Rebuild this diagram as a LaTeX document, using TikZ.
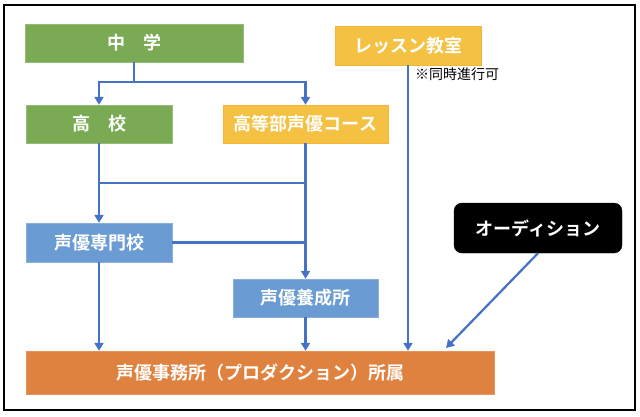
\documentclass[tikz,border=0pt]{standalone}
\usepackage{fontspec}
\setmainfont{Noto Sans CJK JP}[BoldFont={Noto Sans CJK JP Bold}]
\usetikzlibrary{arrows.meta}
\definecolor{chgreen}{HTML}{7AAB54}
\definecolor{chyellow}{HTML}{F4C143}
\definecolor{chblue}{HTML}{6A9BD2}
\definecolor{chorange}{HTML}{E0823F}
\definecolor{chline}{HTML}{4472C4}
\tikzset{
    box/.style={minimum height=38pt, inner sep=0pt, text=white, font=\fontsize{18}{21}\selectfont\bfseries},
    greenbox/.style={box, fill=chgreen, draw=chgreen!80!white},
    yellowbox/.style={box, fill=chyellow, draw=chyellow!80!orange},
    bluebox/.style={box, fill=chblue, draw=chblue!80!white},
    flow/.style={draw=chline, line width=2.2pt},
    flowarrow/.style={flow, -{Triangle[width=9pt,length=8pt]}}
}
\begin{document}
\begin{tikzpicture}[x=1pt,y=-1pt]
    \useasboundingbox (0,0) rectangle (640,416);
    \draw[line width=1.2pt] (4,5) rectangle (635,410);
    \node[greenbox, minimum width=218pt] (chugaku) at (134,43) {中　学};
    \node[greenbox, minimum width=146pt] (koukou) at (99,124) {高　校};
    \node[yellowbox, minimum width=165pt] (koutoubu) at (305.5,124) {高等部声優コース};
    \node[yellowbox, minimum width=146pt, minimum height=39pt] (lesson) at (408,45.5) {レッスン教室};
    \node[anchor=west, inner sep=0pt, font=\fontsize{14}{16}\selectfont] (douji) at (415,74) {※同時進行可};
    \node[bluebox, minimum width=146pt, minimum height=39pt] (senmon) at (99,242.5) {声優専門校};
    \node[bluebox, minimum width=145pt] (yousei) at (305.5,298) {声優養成所};
    \node[box, fill=black, draw=black, rounded corners=8pt, minimum width=168pt, minimum height=50pt] (audition) at (538,228) {オーディション};
    \node[box, fill=chorange, draw=chorange!85!white, minimum width=468pt, minimum height=43pt] (jimusho) at (260,372.5) {声優事務所（プロダクション）所属};
    \coordinate (split) at (134,82);
    \coordinate (joinL) at (99,183);
    \coordinate (joinR) at (305.5,183);
    \coordinate (audin) at (446,348);
    \draw[flow] (chugaku.south) -- (split);
    \draw[flowarrow] (split) -| (koukou.north);
    \draw[flowarrow] (split) -| (koutoubu.north);
    \draw[flowarrow] (koukou.south) -- (senmon.north);
    \draw[flowarrow] (koutoubu.south) -- (yousei.north);
    \draw[flow] (joinL) -- (joinR);
    \draw[flow] (senmon.east) -- (senmon.east -| yousei.north);
    \draw[flowarrow] (senmon.south) -- (senmon.south |- jimusho.north);
    \draw[flowarrow] (yousei.south) -- (yousei.south |- jimusho.north);
    \draw[flowarrow] (lesson.south) -- (lesson.south |- jimusho.north);
    \draw[flowarrow] (audition.south) -- (audin);
\end{tikzpicture}
\end{document}
